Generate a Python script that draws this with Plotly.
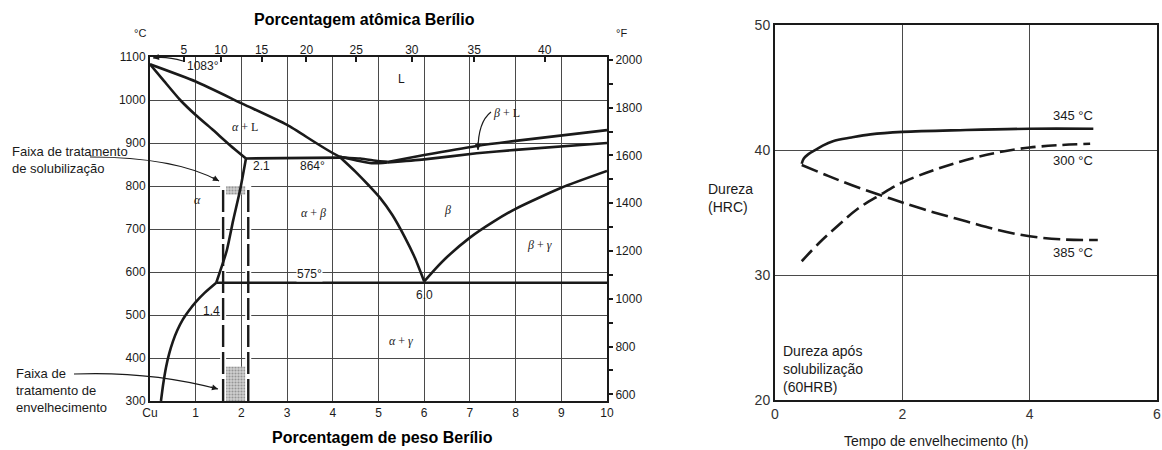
import plotly.graph_objects as go

# ---------------- Cu-Be phase diagram (wt% Be, °C) ----------------
liquidus_wt = [0.0, 1.0, 2.03, 3.0, 4.16, 4.6, 5.0, 5.2]
liquidus_t = [1083, 1043, 991, 942, 868, 864, 858, 856]
solidus_a_wt = [0.0, 0.3, 0.66, 1.0, 1.38, 1.75, 2.1]
solidus_a_t = [1083, 1045, 1000, 965, 930, 895, 864]
solvus_a_hi_wt = [2.1, 1.97, 1.82, 1.68, 1.45]
solvus_a_hi_t = [864, 790, 720, 650, 575]
solvus_a_lo_wt = [1.45, 1.2, 1.0, 0.85, 0.72, 0.6, 0.5, 0.42, 0.35, 0.29, 0.24]
solvus_a_lo_t = [575, 552, 530, 510, 490, 465, 438, 410, 378, 340, 300]
peritectic_wt = [2.1, 4.16]
peritectic_t = [864, 866]
eutectoid_wt = [1.45, 10.0]
eutectoid_t = [575, 575]
lens_lo_wt = [4.16, 4.5, 4.85, 5.2]
lens_lo_t = [868, 860, 853, 855]
beta_left_wt = [4.16, 4.5, 4.8, 5.03, 5.3, 5.58, 5.8, 6.0]
beta_left_t = [867, 833, 800, 773, 733, 680, 632, 578]
beta_right_wt = [6.0, 6.25, 6.5, 7.0, 7.5, 8.0, 9.0, 10.0]
beta_right_t = [578, 608, 635, 680, 716, 747, 796, 835]
beta_liq_wt = [5.2, 6.0, 7.15, 8.0, 10.0]
beta_liq_t = [856, 872, 893, 905, 930]
beta_sol_wt = [5.2, 6.0, 7.15, 8.0, 10.0]
beta_sol_t = [855, 862, 876, 884, 900]

# treatment windows
treat_wt = [1.6, 2.15]
solub_t = [780, 800]
aging_t = [300, 380]

# axes ticks
wt_ticks = [0, 1, 2, 3, 4, 5, 6, 7, 8, 9, 10]
wt_labels = ["Cu", "1", "2", "3", "4", "5", "6", "7", "8", "9", "10"]
at_ticks = [5, 10, 15, 20, 25, 30, 35, 40]
c_ticks = [300, 400, 500, 600, 700, 800, 900, 1000, 1100]
f_ticks = [600, 800, 1000, 1200, 1400, 1600, 1800, 2000]

# ---------------- Ageing hardness curves ----------------
t345 = [0.42, 0.45, 0.52, 0.6, 0.75, 0.91, 1.2, 1.5, 2.0, 3.0, 4.0, 5.0]
hrc345 = [38.9, 39.3, 39.65, 39.9, 40.35, 40.7, 41.0, 41.25, 41.45, 41.6, 41.7, 41.7]
t300 = [0.42, 0.7, 1.0, 1.3, 1.65, 2.0, 2.5, 3.0, 3.5, 4.0, 4.5, 4.95]
hrc300 = [31.1, 32.6, 34.0, 35.3, 36.4, 37.4, 38.4, 39.2, 39.8, 40.2, 40.4, 40.5]
t385 = [0.42, 0.8, 1.2, 1.65, 2.0, 2.5, 3.0, 3.5, 4.0, 4.5, 5.07]
hrc385 = [38.8, 38.0, 37.2, 36.4, 35.8, 35.0, 34.3, 33.6, 33.1, 32.85, 32.8]


def at_to_wt(a):
    """Convert atomic % Be to weight % Be."""
    return 100 * a * 9.012 / (a * 9.012 + (100 - a) * 63.546)


def c_to_f(c):
    return c * 9 / 5 + 32


INK = "#1a1a1a"
SANS = "Liberation Sans, Arial, sans-serif"
SERIF = "Liberation Serif, Times New Roman, serif"
W, H = 1162, 450

fig = go.Figure()


def phase_line(x, y, shape="spline", width=2.6):
    fig.add_trace(go.Scatter(x=x, y=y, mode="lines", xaxis="x", yaxis="y",
                             line=dict(color=INK, width=width, shape=shape, smoothing=0.6),
                             hoverinfo="skip", showlegend=False))


# stippled treatment windows
for lo, hi in (solub_t, aging_t):
    fig.add_trace(go.Scatter(
        x=[treat_wt[0], treat_wt[1], treat_wt[1], treat_wt[0], treat_wt[0]],
        y=[lo, lo, hi, hi, lo], mode="lines", fill="toself",
        fillcolor="#c0c0c0",
        fillpattern=dict(shape=".", fgcolor="#5a5a5a", bgcolor="#d0d0d0", size=3, solidity=0.4),
        line=dict(width=0), xaxis="x", yaxis="y", hoverinfo="skip", showlegend=False))

# dashed composition limits with white halo
for w in treat_wt:
    fig.add_trace(go.Scatter(x=[w, w], y=[300, 800], mode="lines", xaxis="x", yaxis="y",
                             line=dict(color="white", width=6), hoverinfo="skip", showlegend=False))
    fig.add_trace(go.Scatter(x=[w, w], y=[300, 800], mode="lines", xaxis="x", yaxis="y",
                             line=dict(color=INK, width=2.4, dash="22px,5px"),
                             hoverinfo="skip", showlegend=False))

phase_line(liquidus_wt, liquidus_t)
phase_line(solidus_a_wt, solidus_a_t)
phase_line(solvus_a_hi_wt, solvus_a_hi_t)
phase_line(solvus_a_lo_wt, solvus_a_lo_t)
phase_line(peritectic_wt, peritectic_t, shape="linear")
phase_line(eutectoid_wt, eutectoid_t, shape="linear")
phase_line(lens_lo_wt, lens_lo_t)
phase_line(beta_left_wt, beta_left_t)
phase_line(beta_right_wt, beta_right_t)
phase_line(beta_liq_wt, beta_liq_t)
phase_line(beta_sol_wt, beta_sol_t)

# invisible traces so the secondary scales are drawn
fig.add_trace(go.Scatter(x=[None], y=[None], xaxis="x2", yaxis="y", showlegend=False, hoverinfo="skip"))
fig.add_trace(go.Scatter(x=[None], y=[None], xaxis="x", yaxis="y2", showlegend=False, hoverinfo="skip"))

# hardness curves
fig.add_trace(go.Scatter(x=t345, y=hrc345, mode="lines", xaxis="x3", yaxis="y3",
                         line=dict(color=INK, width=2.6, shape="spline"),
                         hoverinfo="skip", showlegend=False))
fig.add_trace(go.Scatter(x=t300, y=hrc300, mode="lines", xaxis="x3", yaxis="y3",
                         line=dict(color=INK, width=2.6, shape="spline", dash="15px,6px"),
                         hoverinfo="skip", showlegend=False))
fig.add_trace(go.Scatter(x=t385, y=hrc385, mode="lines", xaxis="x3", yaxis="y3",
                         line=dict(color=INK, width=2.6, shape="spline", dash="17px,6px"),
                         hoverinfo="skip", showlegend=False))

ann = []
shapes = []


def region(text, x, y, size=12, font=SERIF, **kw):
    ann.append(dict(text=text, x=x, y=y, xref="x", yref="y", showarrow=False,
                    font=dict(family=font, size=size, color=INK), **kw))


def px(xp, yp):
    """Pixel position (from the top-left corner) to paper coordinates."""
    return xp / W, (H - yp) / H


def paper_text(text, xp, yp, size=12, xanchor="center", yanchor="middle", color=INK, **kw):
    x0, y0 = px(xp, yp)
    ann.append(dict(text=text, x=x0, y=y0, xref="paper", yref="paper", showarrow=False,
                    xanchor=xanchor, yanchor=yanchor,
                    font=dict(family=SANS, size=size, color=color), **kw))


def curved_arrow(start, ctrl, end):
    """Quadratic curve from start to end (pixel positions) with an arrowhead at end."""
    (sx, sy), (cx, cy), (ex, ey) = px(*start), px(*ctrl), px(*end)
    shapes.append(dict(type="path", xref="paper", yref="paper",
                       path=f"M {sx},{sy} Q {cx},{cy} {ex},{ey}",
                       line=dict(color=INK, width=1.2)))
    dx, dy = end[0] - ctrl[0], end[1] - ctrl[1]
    n = (dx * dx + dy * dy) ** 0.5
    ex0, ey0 = px(*end)
    ann.append(dict(text="", x=ex0, y=ey0, xref="paper", yref="paper",
                    ax=-dx / n * 9, ay=-dy / n * 9, showarrow=True, arrowhead=2,
                    arrowsize=1, arrowwidth=1.2, arrowcolor=INK))


region("L", 5.5, 1050, size=12, font=SANS)
region("<i>α</i> + L", 2.08, 937)
region("2.1", 2.43, 847, font=SANS)
region("864°", 3.55, 847, font=SANS)
region("<i>α</i>", 1.03, 767)
region("<i>α</i> + <i>β</i>", 3.57, 737)
region("<i>β</i>", 6.5, 744)
region("<i>β</i> + <i>γ</i>", 8.53, 663)
region("575°", 3.5, 596, font=SANS, bgcolor="white", borderpad=0)
region("6.0", 6.0, 546, font=SANS)
region("1.4", 1.35, 510, font=SANS)
region("<i>α</i> + <i>γ</i>", 5.5, 440)
region("<i>β</i> + L", 7.8, 970)

# labelled arrows inside the diagram
paper_text("1083°", 185, 66, xanchor="left")
curved_arrow((183, 61), (166, 56), (153, 58))
curved_arrow((491, 112), (478, 122), (478, 150))

# treatment window call-outs
paper_text("Faixa de tratamento<br>de solubilização", 10, 142, size=13,
           xanchor="left", yanchor="top", align="left")
curved_arrow((90, 157), (175, 157), (219, 181))
paper_text("Faixa de<br>tratamento de<br>envelhecimento", 14, 364, size=13,
           xanchor="left", yanchor="top", align="left")
curved_arrow((74, 374), (150, 371), (218, 389))

# axis captions
paper_text("<b>Porcentagem atômica Berílio</b>", 364, 20, size=16, color="black")
paper_text("<b>Porcentagem de peso Berílio</b>", 382, 437, size=16, color="black")
paper_text("°C", 140, 33, size=11)
paper_text("°F", 621, 33, size=11)

# hardness chart labels
for txt, yv in (("345 °C", 42.75), ("300 °C", 39.2), ("385 °C", 31.8)):
    ann.append(dict(text=txt, x=4.68, y=yv, xref="x3", yref="y3", showarrow=False,
                    font=dict(family=SANS, size=13, color=INK)))
paper_text("Dureza<br>(HRC)", 706, 198, size=14, xanchor="left", align="left")
ann.append(dict(text="Dureza após<br>solubilização<br>(60HRB)", x=0.1, y=24.7, xref="x3", yref="y3",
                xanchor="left", yanchor="top", align="left", showarrow=False,
                font=dict(family=SANS, size=14, color=INK)))
paper_text("Tempo de envelhecimento (h)", 936, 441, size=14)

GRID = "#4a4a4a"
fig.update_layout(
    width=W, height=H, margin=dict(l=0, r=0, t=0, b=0, autoexpand=False),
    paper_bgcolor="white", plot_bgcolor="white", showlegend=False,
    annotations=ann, shapes=shapes,
    xaxis=dict(domain=[150 / W, 607 / W], anchor="y", range=[0, 10], automargin=False,
               tickvals=wt_ticks, ticktext=wt_labels, ticks="",
               showgrid=True, gridcolor=GRID, gridwidth=1, zeroline=False,
               showline=True, linecolor=INK, linewidth=2, mirror=True,
               tickfont=dict(family=SANS, size=12, color=INK)),
    xaxis2=dict(overlaying="x", anchor="y", side="top", range=[0, 10], automargin=False,
                tickvals=[at_to_wt(a) for a in at_ticks], ticktext=[str(a) for a in at_ticks],
                ticks="inside", ticklen=5, tickcolor=INK, tickwidth=1.5, showgrid=False,
                zeroline=False, showline=False,
                tickfont=dict(family=SANS, size=12, color=INK)),
    yaxis=dict(domain=[49 / H, 393 / H], anchor="x", range=[300, 1100], automargin=False,
               tickvals=c_ticks, ticks="", showgrid=True, gridcolor=GRID, gridwidth=1,
               zeroline=False, showline=True, linecolor=INK, linewidth=2, mirror=True,
               tickfont=dict(family=SANS, size=12, color=INK)),
    yaxis2=dict(overlaying="y", anchor="x", side="right", range=[c_to_f(300), c_to_f(1100)],
                automargin=False,
                tickvals=f_ticks, ticks="outside", ticklen=5, tickcolor=INK, tickwidth=1.5,
                minor=dict(dtick=100, tick0=0, ticks="outside", ticklen=5, tickcolor=INK, tickwidth=1.5),
                showgrid=False, zeroline=False, showline=False,
                tickfont=dict(family=SANS, size=12, color=INK)),
    xaxis3=dict(domain=[775 / W, 1157 / W], anchor="y3", range=[0, 6], automargin=False,
                tickvals=[0, 2, 4, 6], ticks="", showgrid=True, gridcolor=GRID, gridwidth=1,
                zeroline=False, showline=True, linecolor=INK, linewidth=2, mirror=True,
                tickfont=dict(family=SANS, size=14, color="#333")),
    yaxis3=dict(domain=[50 / H, 425 / H], anchor="x3", range=[20, 50], automargin=False,
                tickvals=[20, 30, 40, 50], ticks="", showgrid=True, gridcolor=GRID, gridwidth=1,
                zeroline=False, showline=True, linecolor=INK, linewidth=2, mirror=True,
                tickfont=dict(family=SANS, size=14, color="#333")),
)

fig.write_html("out.html")
